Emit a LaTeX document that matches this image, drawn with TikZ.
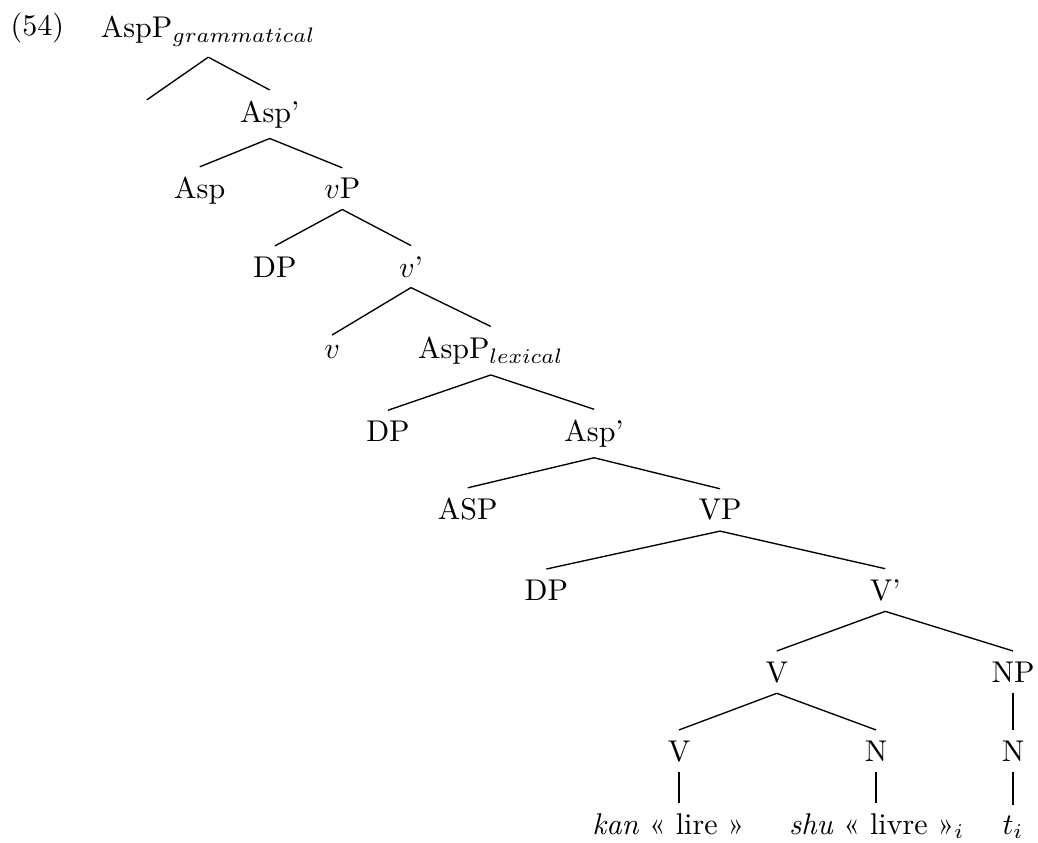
\documentclass[tikz,border=0pt]{standalone}
\usepackage{tikz}

\begin{document}
\begin{tikzpicture}[
    cat/.style={anchor=base, inner sep=3.33pt},
    branch/.style={draw, line width=0.45pt}
]
\useasboundingbox (0,0) rectangle (12.16,-9.864);

\node[anchor=base west] (exnum) at (0.0, -0.42) {(54)};

\node[cat] (aspPg) at (2.44, -0.445) {AspP$_{grammatical}$};
\coordinate (spec) at (1.72, -1.17);
\node[cat] (aspbarG) at (3.16, -1.43) {Asp'};

\node[cat] (aspG) at (2.34, -2.33) {Asp};
\node[cat] (vP) at (4.01, -2.33) {$v$P};

\node[cat] (dpv) at (3.22, -3.245) {DP};
\node[cat] (vbar) at (4.815, -3.245) {$v$'};

\node[cat] (vhead) at (3.89, -4.20) {$v$};
\node[cat] (aspPl) at (5.75, -4.20) {AspP$_{lexical}$};

\node[cat] (dpasp) at (4.545, -5.17) {DP};
\node[cat] (aspbarL) at (6.96, -5.17) {Asp'};

\node[cat] (aspL) at (5.48, -6.09) {ASP};
\node[cat] (vp) at (8.435, -6.09) {VP};

\node[cat] (dpvp) at (6.40, -7.03) {DP};
\node[cat] (vbarV) at (10.37, -7.03) {V'};

\node[cat] (vcomp) at (9.10, -7.99) {V};
\node[cat] (np) at (11.867, -7.99) {NP};

\node[cat] (vlow) at (7.955, -8.915) {V};
\node[cat] (nlow) at (10.262, -8.915) {N};
\node[cat] (ntrace) at (11.867, -8.915) {N};

\node[cat] (kan) at (7.83, -9.77) {\textit{kan} « lire »};
\node[cat] (shu) at (10.27, -9.77) {\textit{shu} « livre »$_i$};
\node[cat] (trace) at (11.867, -9.77) {$t_i$};

% branches
\draw[branch] (aspPg.south) -- (spec);
\draw[branch] (aspPg.south) -- (aspbarG.north);
\draw[branch] (aspbarG.south) -- (aspG.north);
\draw[branch] (aspbarG.south) -- (vP.north);
\draw[branch] (vP.south) -- (dpv.north);
\draw[branch] (vP.south) -- (vbar.north);
\draw[branch] (vbar.south) -- (vhead.north);
\draw[branch] (vbar.south) -- (aspPl.north);
\draw[branch] (aspPl.south) -- (dpasp.north);
\draw[branch] (aspPl.south) -- (aspbarL.north);
\draw[branch] (aspbarL.south) -- (aspL.north);
\draw[branch] (aspbarL.south) -- (vp.north);
\draw[branch] (vp.south) -- (dpvp.north);
\draw[branch] (vp.south) -- (vbarV.north);
\draw[branch] (vbarV.south) -- (vcomp.north);
\draw[branch] (vbarV.south) -- (np.north);
\draw[branch] (vcomp.south) -- (vlow.north);
\draw[branch] (vcomp.south) -- (nlow.north);
\draw[branch] (np.south) -- (ntrace.north);
% leaves
\draw[branch] (vlow.south) -- (vlow.south |- kan.north);
\draw[branch] (nlow.south) -- (nlow.south |- shu.north);
\draw[branch] (ntrace.south) -- (ntrace.south |- trace.north);

\end{tikzpicture}
\end{document}
